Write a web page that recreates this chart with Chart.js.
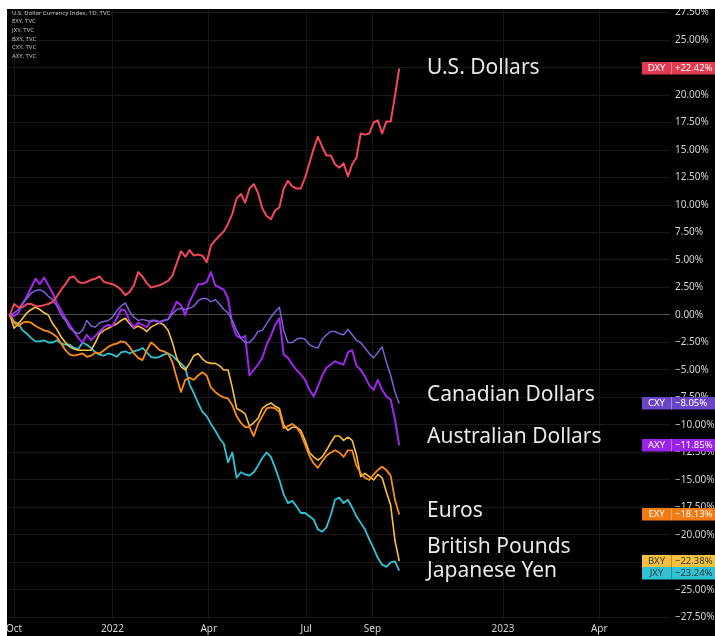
<!DOCTYPE html>
<html>
<head>
<meta charset="utf-8">
<script src="https://cdn.jsdelivr.net/npm/chart.js@4.4.1/dist/chart.umd.min.js"></script>
<style>
  html, body { margin: 0; padding: 0; background: #fff; }
  #wrap { position: absolute; left: 7px; top: 9px; width: 708px; height: 627px; background: #000; overflow: hidden; }
</style>
</head>
<body>
<div id="wrap"><canvas id="fxChart" width="708" height="627"></canvas></div>
<script>
// sample dates: every 4 days from the first date
const firstDate = '2021-09-27';
const stepDays = 4;

// % change since the first sample
const dxy = [0.0, 1.0, 0.7, 0.7, 1.0, 1.0, 0.8, 0.8, 0.9, 1.0,
  1.2, 1.7, 2.3, 2.8, 3.4, 3.5, 3.0, 2.9, 3.0, 3.2,
  3.3, 3.5, 3.0, 2.9, 2.8, 2.6, 2.3, 1.8, 2.1, 2.7,
  3.9, 3.5, 2.9, 2.5, 2.6, 2.7, 2.9, 3.1, 3.6, 4.7,
  5.8, 5.3, 5.9, 5.4, 5.5, 5.4, 4.8, 6.3, 6.8, 7.2,
  7.6, 8.3, 9.2, 10.6, 11.0, 10.2, 11.5, 11.9, 11.1, 9.7,
  9.0, 8.7, 9.5, 9.8, 11.5, 12.2, 11.7, 11.5, 11.5, 12.5,
  13.8, 15.1, 16.2, 15.3, 14.5, 14.5, 13.7, 13.4, 13.8, 12.6,
  13.7, 14.3, 16.5, 16.4, 16.5, 17.5, 17.7, 16.5, 17.6, 17.6,
  19.9, 22.42];

const cxy = [0.0, 0.2, 0.5, 1.1, 1.5, 2.0, 2.2, 2.3, 2.1, 1.7,
  1.4, 0.8, 0.0, -0.5, -1.2, -1.5, -1.7, -1.4, -0.5, -1.0,
  -1.1, -0.7, -0.6, -0.5, -0.2, 0.4, 0.8, 1.1, 0.3, -0.2,
  -0.5, -0.4, -0.5, -0.6, -0.5, -0.6, -0.5, -0.4, 0.1, 0.5,
  0.6, 0.5, 0.6, 0.8, 1.3, 1.5, 1.5, 1.2, 1.4, 1.0,
  0.5, 0.2, -0.5, -1.4, -2.1, -2.5, -2.5, -2.1, -1.5, -1.4,
  -0.8, -0.2, 0.3, 0.7, -1.4, -2.5, -2.5, -2.2, -2.1, -2.2,
  -2.7, -2.9, -3.0, -2.2, -1.8, -1.5, -1.5, -1.7, -1.8, -1.3,
  -1.8, -2.3, -2.5, -3.0, -3.5, -3.9, -3.4, -2.9, -4.3, -5.5,
  -7.0, -8.05];

const axy = [0.0, -0.1, 0.2, 1.0, 1.7, 2.5, 3.3, 2.8, 3.4, 2.7,
  2.0, 1.1, 0.4, -0.3, -0.9, -1.5, -2.1, -2.5, -1.8, -2.3,
  -1.9, -1.5, -1.1, -0.9, -1.0, -0.3, 0.5, 0.4, -0.6, -1.1,
  -0.7, -0.9, -1.1, -0.5, -0.5, -0.7, -0.5, -0.4, 0.4, 1.2,
  0.9, 0.0, 1.2, 2.0, 2.8, 2.8, 3.0, 3.9, 2.7, 2.5,
  2.3, 1.5, -0.9, -1.9, -2.1, -1.9, -5.5, -5.0, -4.5, -3.9,
  -2.7, -1.9, -0.9, -0.3, -3.6, -3.9, -4.5, -5.0, -5.4, -5.9,
  -6.8, -7.4, -6.5, -5.5, -4.8, -4.5, -4.2, -4.4, -4.5, -3.4,
  -3.2, -4.6, -5.0, -5.6, -6.4, -6.8, -5.9, -6.8, -7.4, -7.7,
  -9.5, -11.85];

const exy = [0.0, -0.7, -1.0, -0.7, -0.6, -0.7, -1.0, -1.2, -1.4, -1.5,
  -1.7, -2.0, -2.6, -3.2, -3.6, -3.7, -3.6, -3.5, -3.8, -3.7,
  -3.4, -3.5, -3.2, -2.9, -2.7, -2.6, -2.4, -2.5, -2.9, -3.5,
  -3.9, -4.1, -3.2, -2.5, -2.8, -3.2, -3.3, -3.5, -4.3, -5.7,
  -7.0, -5.9, -5.7, -5.9, -5.5, -5.2, -5.5, -6.6, -7.0, -7.3,
  -7.5, -7.6, -8.2, -9.2, -9.8, -10.2, -10.2, -11.0, -9.9, -9.2,
  -8.5, -8.4, -8.5, -8.8, -10.3, -10.1, -9.9, -10.2, -10.8, -11.8,
  -12.8, -13.5, -13.9, -13.3, -12.8, -12.5, -12.3, -12.5, -12.9, -12.3,
  -12.3, -13.7, -14.4, -14.8, -15.0, -14.5, -14.1, -13.8, -14.1, -14.6,
  -16.8, -18.13];

const bxy = [0.0, -1.2, -0.8, -0.3, 0.2, 0.5, 0.7, 0.5, 0.2, 0.0,
  -0.8, -1.3, -2.0, -2.5, -2.9, -3.1, -3.2, -3.2, -3.2, -3.2,
  -2.5, -1.7, -1.4, -1.2, -1.0, -0.8, -0.5, -0.3, -0.8, -1.2,
  -1.0, -1.2, -1.5, -1.1, -0.9, -0.7, -0.9, -1.4, -2.5, -3.9,
  -4.7, -5.0, -4.4, -3.7, -3.5, -4.0, -4.3, -4.4, -4.4, -4.6,
  -5.0, -5.0, -6.6, -8.5, -8.7, -9.0, -10.1, -9.8, -9.4, -8.5,
  -8.2, -8.0, -8.3, -8.5, -10.0, -10.5, -10.2, -10.2, -10.5, -11.4,
  -12.5, -12.9, -13.2, -12.9, -12.3, -11.6, -11.0, -11.0, -11.4, -11.1,
  -11.4, -12.7, -14.7, -14.4, -14.7, -15.0, -14.5, -14.8, -16.1, -17.3,
  -20.5, -22.38];

const jxy = [0.0, -0.6, -0.8, -1.4, -1.7, -2.1, -2.4, -2.4, -2.3, -2.5,
  -2.5, -2.3, -2.6, -2.7, -2.7, -3.0, -3.1, -2.5, -2.7, -3.0,
  -3.4, -3.6, -3.7, -3.5, -3.6, -3.8, -3.4, -3.3, -3.5, -3.3,
  -3.2, -3.0, -3.4, -3.8, -3.9, -3.8, -3.6, -3.5, -3.7, -4.1,
  -4.4, -4.8, -6.3, -7.1, -8.0, -8.8, -9.2, -9.9, -10.5, -11.2,
  -11.7, -13.4, -12.5, -14.8, -14.3, -14.5, -14.6, -14.3, -13.7, -13.0,
  -12.5, -12.9, -13.9, -15.0, -16.3, -17.1, -16.9, -17.4, -18.0, -18.0,
  -18.3, -18.6, -19.5, -19.7, -19.3, -18.2, -16.8, -16.6, -17.1, -16.8,
  -17.5, -18.3, -18.9, -19.5, -20.4, -21.2, -22.1, -22.7, -22.9, -22.5,
  -22.4, -23.24];

const seriesCodes = ['DXY', 'CXY', 'AXY', 'EXY', 'BXY', 'JXY'];
const seriesNames = ['U.S. Dollars', 'Canadian Dollars', 'Australian Dollars', 'Euros', 'British Pounds', 'Japanese Yen'];
const legendLines = ['U.S. Dollar Currency Index, 1D, TVC', 'EXY, TVC', 'JXY, TVC', 'BXY, TVC', 'CXY, TVC', 'AXY, TVC'];

const tickDates = ['2021-10-01', '2022-01-01', '2022-04-01', '2022-07-01', '2022-09-01', '2023-01-01', '2023-04-01'];
const tickLabels = ['Oct', '2022', 'Apr', 'Jul', 'Sep', '2023', 'Apr'];
const yTicks = [27.5, 25, 22.5, 20, 17.5, 15, 12.5, 10, 7.5, 5, 2.5, 0,
  -2.5, -5, -7.5, -10, -12.5, -15, -17.5, -20, -22.5, -25, -27.5];

// days counted from 1 Oct 2021
const origin = Date.UTC(2021, 9, 1);
function dayNum(iso) {
  const [y, m, d] = iso.split('-').map(Number);
  return (Date.UTC(y, m - 1, d) - origin) / 86400000;
}
const x0 = dayNum(firstDate);
const toPoints = arr => arr.map((v, i) => ({ x: x0 + i * stepDays, y: v }));

const lineColors = ['#f4475b', '#7f5fd6', '#a126f0', '#fb8c12', '#f9c03a', '#2ec4d6'];
const tagColors = ['#e43a50', '#6a45c8', '#9b22ec', '#f37a12', '#f7c03c', '#30c2d2'];
const tagText = ['#fff', '#fff', '#fff', '#fff', '#3a3a3a', '#2a3a40'];
const lineWidths = [2, 1.5, 2, 1.8, 1.6, 1.8];
const allSeries = [dxy, cxy, axy, exy, bxy, jxy];

// vertical anchor (in %) for the big series names
const nameLevels = [22.45, -7.25, -11.1, -17.8, -21.1, -23.25];
const nameDate = '2022-10-22';

const fmtPct = v => (v > 0 ? '+' : v < 0 ? '\u2212' : '') + Math.abs(v).toFixed(2) + '%';

// keep the plot area flush with the canvas edges
function noPadding(scale) {
  scale.paddingTop = 0;
  scale.paddingBottom = 0;
  scale.paddingLeft = 0;
  scale.paddingRight = 0;
}

const overlay = {
  id: 'overlay',
  afterDraw(chart) {
    const { ctx, chartArea, scales: { x, y } } = chart;
    ctx.save();

    // small source list, top left
    ctx.font = '6px "Noto Sans"';
    ctx.fillStyle = '#c4c4c4';
    ctx.textBaseline = 'middle';
    ctx.textAlign = 'left';
    legendLines.forEach((t, i) => ctx.fillText(t, 5, 4 + i * 8.6));

    // series names next to the line ends
    ctx.font = '21px "Noto Sans"';
    ctx.fillStyle = '#e8e8e8';
    const nx = x.getPixelForValue(dayNum(nameDate));
    seriesNames.forEach((n, i) => ctx.fillText(n, nx, y.getPixelForValue(nameLevels[i])));

    // last-value tags on the price scale
    const h = 12.5;
    const tags = allSeries.map((s, i) => ({ i, v: s[s.length - 1], py: y.getPixelForValue(s[s.length - 1]) }))
      .sort((a, b) => a.py - b.py);
    for (let k = 1; k < tags.length; k++) {
      if (tags[k].py - tags[k - 1].py < h) tags[k].py = tags[k - 1].py + h;
    }
    const left = chartArea.right - 28;
    const split = chartArea.right + 1;
    ctx.font = '9.5px "Noto Sans"';
    tags.forEach(t => {
      const top = Math.round(t.py - h / 2);
      ctx.fillStyle = tagColors[t.i];
      ctx.fillRect(left, top, chart.width - left, h);
      ctx.fillStyle = t.i >= 4 ? 'rgba(0,0,0,0.25)' : 'rgba(255,255,255,0.35)';
      ctx.fillRect(split, top, 1, h);
      ctx.fillStyle = tagText[t.i];
      ctx.textAlign = 'center';
      ctx.fillText(seriesCodes[t.i], (left + split) / 2, top + h / 2);
      ctx.textAlign = 'left';
      ctx.fillText(fmtPct(t.v), split + 4, top + h / 2);
    });
    ctx.restore();
  }
};

Chart.defaults.font.family = '"Noto Sans", sans-serif';

new Chart(document.getElementById('fxChart'), {
  type: 'line',
  data: {
    datasets: allSeries.map((s, i) => ({
      label: seriesCodes[i],
      data: toPoints(s),
      borderColor: lineColors[i],
      borderWidth: lineWidths[i],
      pointRadius: 0,
      tension: 0,
      fill: false,
      borderJoinStyle: 'round'
    }))
  },
  options: {
    responsive: false,
    animation: false,
    layout: { padding: 0 },
    plugins: { legend: { display: false }, tooltip: { enabled: false } },
    scales: {
      x: {
        type: 'linear',
        min: -6.64,
        max: 613.1,
        border: { display: false },
        grid: { color: '#161616', drawTicks: false },
        afterBuildTicks: scale => { scale.ticks = tickDates.map(d => ({ value: dayNum(d) })); },
        afterFit: scale => { scale.height = 16; noPadding(scale); },
        ticks: {
          autoSkip: false,
          maxRotation: 0,
          padding: 3,
          color: '#d2d2d2',
          font: { size: 10 },
          callback: (v, i) => tickLabels[i]
        }
      },
      y: {
        position: 'right',
        min: -27.73,
        max: 27.82,
        border: { display: false },
        grid: {
          drawTicks: false,
          color: c => (c.tick && c.tick.value === 0 ? '#4e4e4e' : '#191919')
        },
        afterBuildTicks: scale => { scale.ticks = yTicks.map(v => ({ value: v })); },
        afterFit: scale => { scale.width = 45; noPadding(scale); },
        ticks: {
          padding: 5,
          color: '#d2d2d2',
          font: { size: 10 },
          callback: v => (v < 0 ? '\u2212' : '') + Math.abs(v).toFixed(2) + '%'
        }
      }
    }
  },
  plugins: [overlay]
});
</script>
</body>
</html>
